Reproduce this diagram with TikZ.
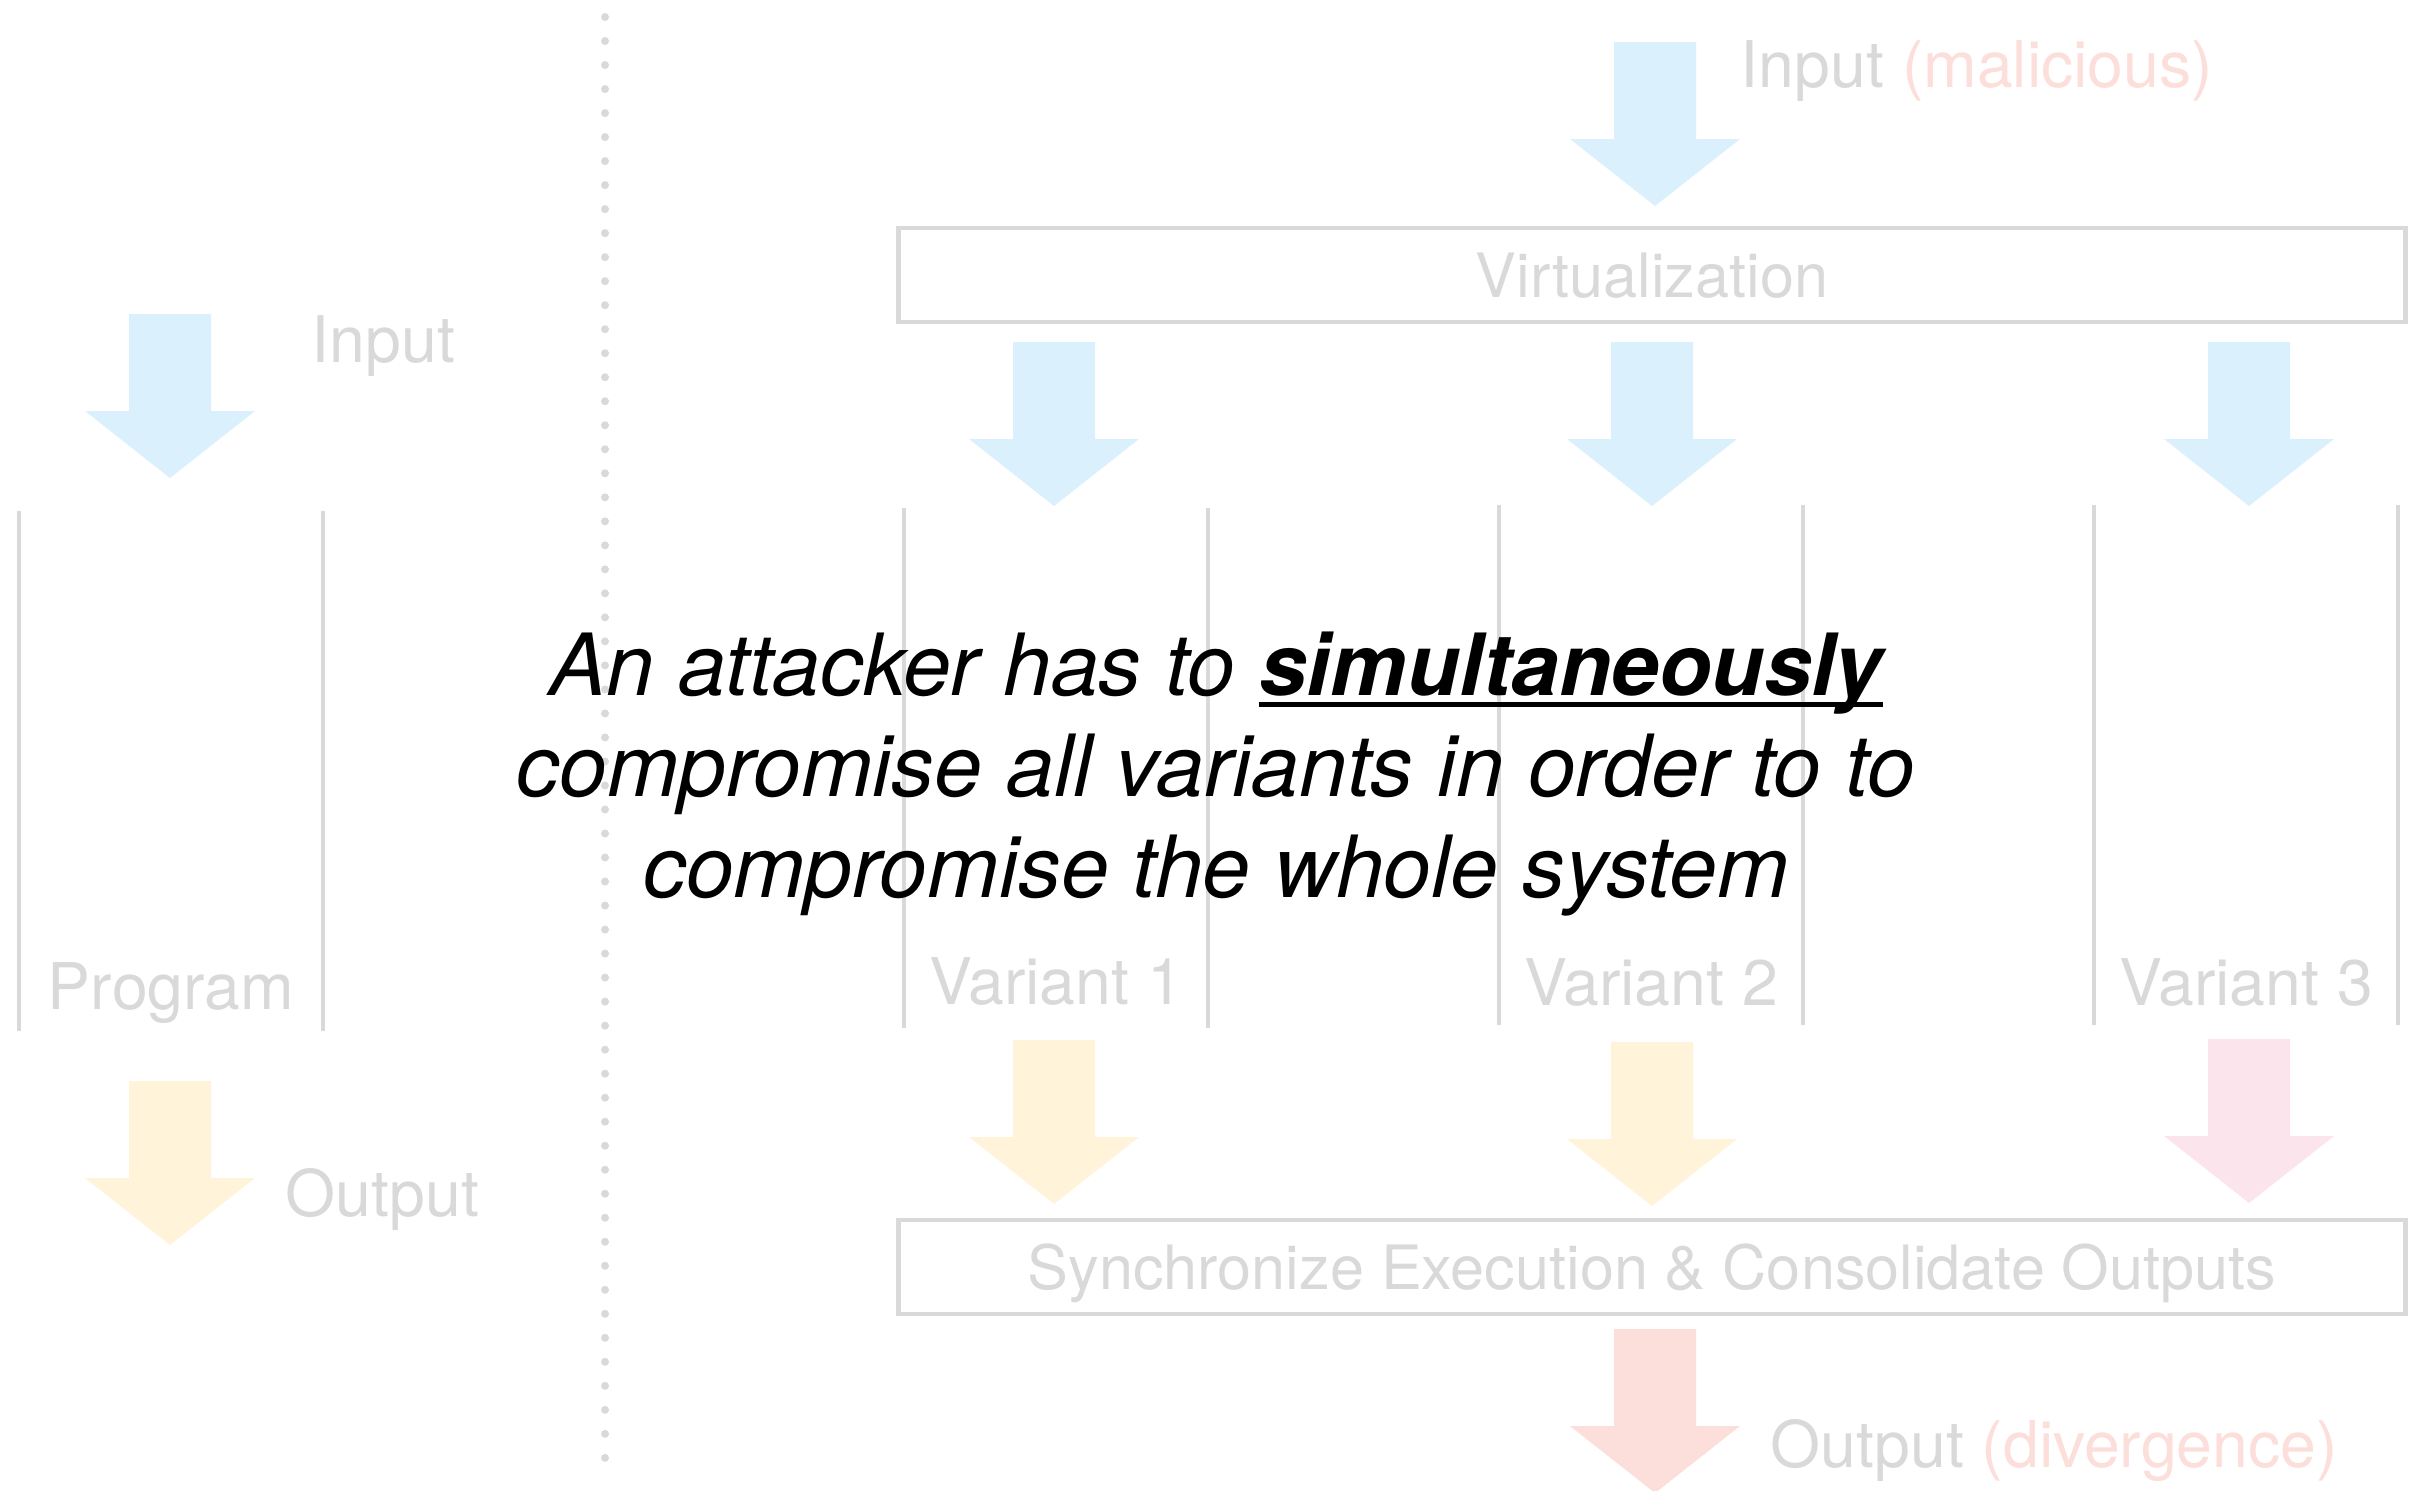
\documentclass[tikz,border=0pt]{standalone}
\usepackage{fontspec}
\setmainfont{TeX Gyre Heros}
\usetikzlibrary{positioning,calc}

\definecolor{railgray}{HTML}{D9D9D9}
\definecolor{arrblue}{HTML}{DAF0FC}
\definecolor{arryellow}{HTML}{FFF3DA}
\definecolor{arrpink}{HTML}{FCE4EC}
\definecolor{arrred}{HTML}{FCDEDA}

% underline that runs through the descenders
\newcommand{\ulword}[1]{\setbox0\hbox{#1}\rlap{\rule[-0.13em]{\wd0}{0.05em}}\box0}

\tikzset{
  fatarrow/.pic={
    \path[pic actions] (-41,0) -- (41,0) -- (41,97) -- (85,97) -- (0,164)
      -- (-85,97) -- (-41,97) -- cycle;
  },
  lbl/.style={text=railgray, font=\fontsize{18.3}{21}\selectfont, inner sep=0pt},
  column/.style={minimum width=3.04cm, minimum height=5.2cm, inner sep=0pt, outer sep=0pt},
  rail/.style={draw=railgray, line width=1.1pt},
  stage/.style={draw=railgray, line width=1.2pt, minimum width=15.06cm,
    minimum height=0.94cm, inner sep=0pt, text height=0.45cm, text depth=0pt,
    text=railgray, font=\fontsize{17.4}{20}\selectfont},
  claim/.style={align=center, inner sep=0pt,
    font=\fontsize{24.4}{28.7}\selectfont\itshape},
}

\begin{document}
\begin{tikzpicture}[x=0.01cm, y=-0.01cm]
  \useasboundingbox (0,0) rectangle (2413,1490);

  % single program
  \pic[fill=arrblue] at (170,314) {fatarrow};
  \node[lbl, anchor=base west] (inl) at (311,362) {Input};
  \node[column] (prog) at (171,771) {};
  \draw[rail] (prog.north west) -- (prog.south west)
              (prog.north east) -- (prog.south east);
  \node[lbl, anchor=base] (progl) at ([yshift=0.22cm]prog.south) {Program};
  \pic[fill=arryellow] at (170,1081) {fatarrow};
  \node[lbl, anchor=base west] (outl) at (285,1216) {Output};

  % separator
  \draw[railgray, line width=0.08cm, line cap=round, dash pattern=on 0pt off 0.24cm]
    (605,17) -- (605,1459);

  % multi-variant execution
  \pic[fill=arrblue] at (1655,42) {fatarrow};
  \node[lbl, anchor=base west] (inm) at (1740,87)
    {Input \textcolor{arrred}{(malicious)}};
  \node[stage] (virt) at (1652,275) {Virtualization};

  \node[column] (var1) at (1056,768) {};
  \node[column] (var2) at (1651,765) {};
  \node[column] (var3) at (2246,765) {};
  \draw[rail] (var1.north west) -- (var1.south west)
              (var1.north east) -- (var1.south east)
              (var2.north west) -- (var2.south west)
              (var2.north east) -- (var2.south east)
              (var3.north west) -- (var3.south west)
              (var3.north east) -- (var3.south east);
  \node[lbl, anchor=base] (var1l) at ([yshift=0.24cm]var1.south) {Variant 1};
  \node[lbl, anchor=base] (var2l) at ([yshift=0.20cm]var2.south) {Variant 2};
  \node[lbl, anchor=base] (var3l) at ([yshift=0.20cm]var3.south) {Variant 3};

  \pic[fill=arrblue] at (1054,342) {fatarrow};
  \pic[fill=arrblue] at (1652,342) {fatarrow};
  \pic[fill=arrblue] at (2249,342) {fatarrow};
  \pic[fill=arryellow] at (1054,1040) {fatarrow};
  \pic[fill=arryellow] at (1652,1042) {fatarrow};
  \pic[fill=arrpink] at (2249,1039) {fatarrow};

  \node[stage] (sync) at (1652,1267) {Synchronize Execution \& Consolidate Outputs};
  \pic[fill=arrred] at (1655,1329) {fatarrow};
  \node[lbl, anchor=base west] (outm) at (1770,1467)
    {Output \textcolor{arrred}{(divergence)}};

  % message
  \node[claim] (msg) at (1216,774)
    {An attacker has to \ulword{\textbf{simultaneously}}\\
     compromise all variants in order to to\\
     compromise the whole system};
\end{tikzpicture}
\end{document}
